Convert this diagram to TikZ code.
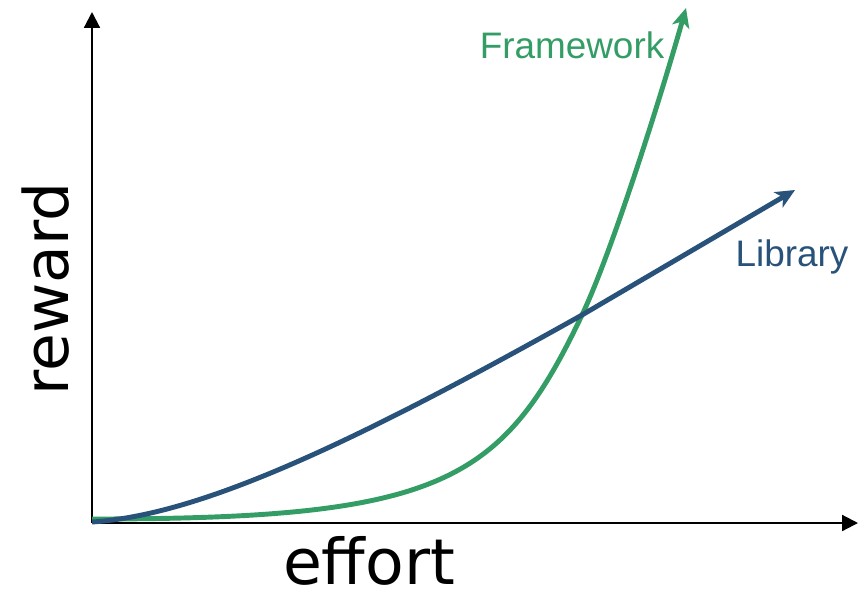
\documentclass[tikz,border=0pt]{standalone}
\usepackage{fontspec}
\setmainfont{Liberation Sans}
\newfontfamily\axisfont{DejaVu Sans}
\usepackage{xcolor}
\usetikzlibrary{arrows.meta}

\definecolor{fwgreen}{RGB}{52,157,101}
\definecolor{libblue}{RGB}{40,82,122}

\begin{document}
\begin{tikzpicture}[x=0.02cm, y=-0.02cm,
    axisline/.style={line width=1.2pt, -{Triangle[length=9pt,width=9pt]}},
    curve/.style={line width=2.8pt, -{Stealth[length=11pt,width=10pt,inset=3pt]}},
    every node/.style={inner sep=0pt}]
    \useasboundingbox (0,0) rectangle (861,592);

    % Axes
    \coordinate (origin) at (92,523);
    \coordinate (xend) at (858,523);
    \coordinate (yend) at (92,12);
    \draw[axisline] (origin) -- (xend);
    \draw[axisline] (origin) -- (yend);

    % Curves
    \coordinate (fwstart) at (92,519);
    \coordinate (libstart) at (92,522);
    \coordinate (cross) at (582,315);
    \coordinate (fwend) at (686,8);
    \coordinate (libend) at (795,190);
    \draw[curve, color=fwgreen] (fwstart) .. controls (442,519) and (502,483) .. (cross)
        .. controls (612,252) and (661,96) .. (fwend);
    \draw[curve, color=libblue] (libstart) .. controls (200,515) and (350,445) .. (cross) -- (libend);

    % Labels
    \node[anchor=base, text=fwgreen, font=\fontsize{21}{25}\selectfont] (fwlabel) at (572,58) {Framework};
    \node[anchor=base, text=libblue, font=\fontsize{21}{25}\selectfont] (liblabel) at (792,266) {Library};
    \node[anchor=base, font=\axisfont\fontsize{36}{42}\selectfont] (xlabel) at (369,584) {effort};
    \node[anchor=base, rotate=90, font=\axisfont\fontsize{35}{42}\selectfont] (ylabel) at (68,289) {reward};
\end{tikzpicture}
\end{document}
